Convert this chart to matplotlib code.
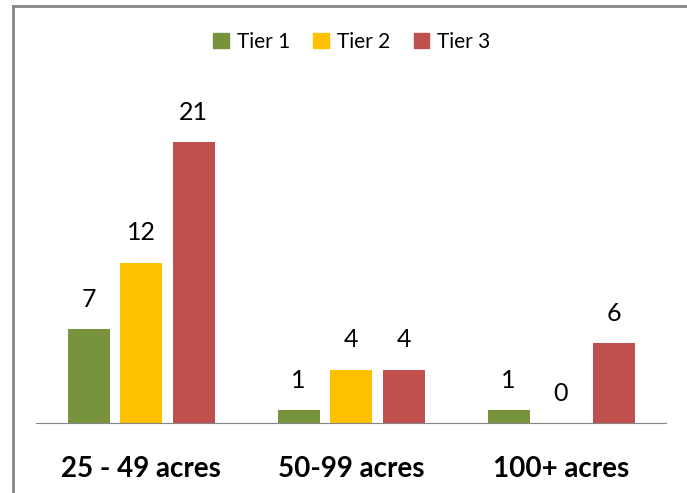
import matplotlib.pyplot as plt
import numpy as np
from matplotlib.lines import Line2D

# chart data
categories = ['25 - 49 acres', '50-99 acres', '100+ acres']
tier1 = [7, 1, 1]
tier2 = [12, 4, 0]
tier3 = [21, 4, 6]
series_names = ['Tier 1', 'Tier 2', 'Tier 3']
colors = ['#77933C', '#FFC000', '#C0504D']

plt.rcParams['font.family'] = ['Lato', 'DejaVu Sans']

W, H = 687, 493
fig = plt.figure(figsize=(W / 100, H / 100), dpi=100)
ax = fig.add_axes([36 / W, 70 / H, 630 / W, 321 / H])

x = np.arange(len(categories))
offsets = [-0.25, 0, 0.25]
for vals, off, col, name in zip([tier1, tier2, tier3], offsets, colors, series_names):
    bars = ax.bar(x + off, vals, width=0.2, color=col, label=name)
    for b, v in zip(bars, vals):
        ax.text(b.get_x() + b.get_width() / 2, v + 1.35, str(v),
                ha='center', va='bottom', fontsize=18)

ax.set_xlim(-0.5, 2.5)
ax.set_ylim(0, 24)
ax.set_yticks([])
ax.set_xticks(x)
ax.set_xticklabels(categories, fontsize=20, fontweight='bold')
ax.tick_params(axis='x', length=0, pad=24)
for s in ['top', 'right', 'left']:
    ax.spines[s].set_visible(False)
ax.spines['bottom'].set_color('#868686')

handles = [plt.Rectangle((0, 0), 1, 1, color=c) for c in colors]
fig.legend(handles, series_names, loc='center', bbox_to_anchor=(352 / W, 1 - 42 / H),
           ncol=3, frameon=False, fontsize=15, handlelength=0.75, handleheight=0.75,
           handletextpad=0.4, columnspacing=1.1)

# outer frame (top and left edges visible)
fig.add_artist(Line2D([13 / W, 13 / W], [0, 1 - 6 / H], transform=fig.transFigure,
                      color='#868686', lw=2))
fig.add_artist(Line2D([13 / W, 1], [1 - 6 / H, 1 - 6 / H], transform=fig.transFigure,
                      color='#868686', lw=2))

fig.savefig('out.png', dpi=100)
